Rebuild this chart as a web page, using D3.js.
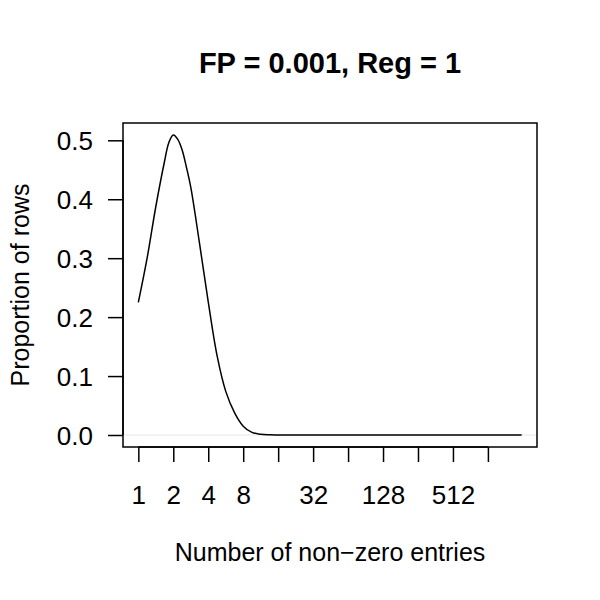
<!DOCTYPE html>
<html>
<head>
<meta charset="utf-8">
<script src="https://cdn.jsdelivr.net/npm/d3@7"></script>
<style>
  body { margin: 0; background: #fff; }
  text { font-family: "Liberation Sans", Arial, Helvetica, sans-serif; fill: #000; }
</style>
</head>
<body>
<div id="chart"></div>
<script>
// values
const entries = [1, 1.19, 1.41, 1.68, 1.83, 2, 2.18, 2.38, 2.59, 2.83, 3.36, 4, 4.76, 5.66, 6.73, 8, 9.51, 11.3, 13.5, 16, 22.6, 32, 64, 128, 256, 512, 1024, 2000];
const proportion = [0.225, 0.300, 0.386, 0.464, 0.496, 0.509, 0.502, 0.484, 0.455, 0.420, 0.326, 0.226, 0.135, 0.074, 0.038, 0.015, 0.0045, 0.0012, 0.0003, 0.0001, 0, 0, 0, 0, 0, 0, 0, 0];
const xTicks = [1, 2, 4, 8, 16, 32, 64, 128, 256, 512, 1024];
const xTickLabels = ["1", "2", "4", "8", "", "32", "", "128", "", "512", ""];
const yTicks = [0, 0.1, 0.2, 0.3, 0.4, 0.5];

const w = 600, h = 600;
const box = { left: 123, right: 537, top: 123, bottom: 447 };

const svg = d3.select("#chart").append("svg")
	.attr("width", w)
	.attr("height", h);

// R style 4% padding around data range
const lx = d3.extent(entries, d => Math.log2(d));
const padX = (lx[1] - lx[0]) * 0.04;
const x = d3.scaleLog().base(2)
	.domain([Math.pow(2, lx[0] - padX), Math.pow(2, lx[1] + padX)])
	.range([box.left, box.right]);

const ymax = d3.max(proportion);
const y = d3.scaleLinear()
	.domain([-ymax * 0.04, ymax * 1.04])
	.range([box.bottom, box.top]);

// faint zero line
svg.append("line")
	.attr("x1", box.left).attr("x2", box.right)
	.attr("y1", y(0)).attr("y2", y(0))
	.attr("stroke", "#e8e8e8").attr("stroke-width", 1);

// curve
const line = d3.line()
	.x((d, i) => x(entries[i]))
	.y(d => y(Math.max(0, d)))
	.curve(d3.curveCatmullRom.alpha(0.5));

svg.append("path")
	.datum(proportion)
	.attr("d", line)
	.attr("fill", "none")
	.attr("stroke", "#000")
	.attr("stroke-width", 1.5);

// box
svg.append("rect")
	.attr("x", box.left).attr("y", box.top)
	.attr("width", box.right - box.left).attr("height", box.bottom - box.top)
	.attr("fill", "none").attr("stroke", "#000").attr("stroke-width", 1.5);

// x axis
const xAxis = d3.axisBottom(x)
	.tickValues(xTicks)
	.tickFormat((d, i) => xTickLabels[i])
	.tickSize(15)
	.tickPadding(24);

const gx = svg.append("g")
	.attr("transform", "translate(0," + box.bottom + ")")
	.call(xAxis);
gx.select(".domain").attr("d", "M" + x(xTicks[0]) + ",0H" + x(xTicks[xTicks.length - 1]))
	.attr("stroke-width", 1.5);

// y axis
const yAxis = d3.axisLeft(y)
	.tickValues(yTicks)
	.tickFormat(d3.format(".1f"))
	.tickSize(15)
	.tickPadding(15);

const gy = svg.append("g")
	.attr("transform", "translate(" + box.left + ",0)")
	.call(yAxis);
gy.select(".domain").attr("d", "M0," + y(yTicks[0]) + "V" + y(yTicks[yTicks.length - 1]))
	.attr("stroke-width", 1.5);

svg.selectAll(".tick line").attr("stroke-width", 1.5);
svg.selectAll(".tick text")
	.attr("font-size", 26)
	.attr("font-family", "Liberation Sans, Arial, sans-serif");
gy.selectAll(".tick text").attr("dy", "0.36em");

// title and axis labels
svg.append("text")
	.attr("x", (box.left + box.right) / 2)
	.attr("y", 73)
	.attr("text-anchor", "middle")
	.attr("font-size", 29)
	.attr("font-weight", "bold")
	.text("FP = 0.001, Reg = 1");

svg.append("text")
	.attr("x", (box.left + box.right) / 2)
	.attr("y", 561)
	.attr("text-anchor", "middle")
	.attr("font-size", 25)
	.text("Number of non\u2212zero entries");

svg.append("text")
	.attr("transform", "translate(29," + (box.top + box.bottom) / 2 + ") rotate(-90)")
	.attr("text-anchor", "middle")
	.attr("font-size", 25)
	.text("Proportion of rows");
</script>
</body>
</html>
